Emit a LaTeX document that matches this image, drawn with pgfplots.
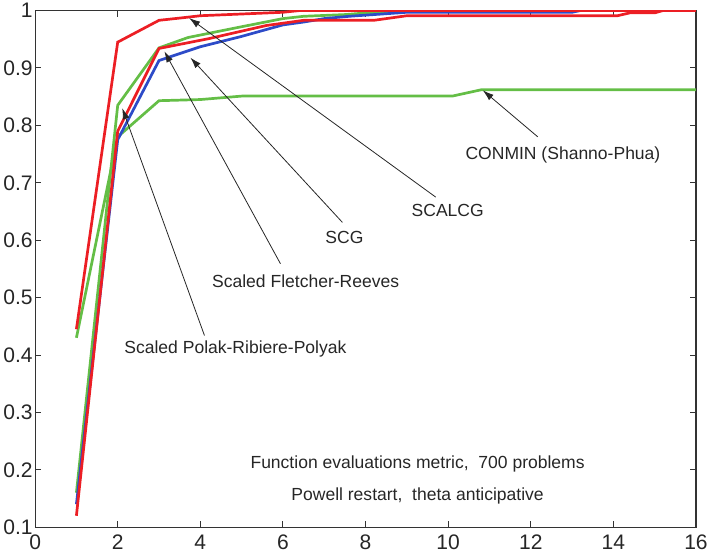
\documentclass[border=0pt]{standalone}
\usepackage{pgfplots}
\pgfplotsset{compat=1.18}
\usepackage{fontspec}
\setmainfont{Liberation Sans}
\usetikzlibrary{arrows.meta}
\definecolor{mred}{RGB}{236,30,36}
\definecolor{mgreen}{RGB}{100,190,70}
\definecolor{mblue}{RGB}{45,75,200}
\begin{document}
\begin{tikzpicture}
\begin{axis}[
  scale only axis, width=660pt, height=516pt,
  xmin=0, xmax=16, ymin=0.1, ymax=1,
  xtick={0,2,...,16}, ytick={0.1,0.2,...,1.0},
  yticklabels={0.1,0.2,0.3,0.4,0.5,0.6,0.7,0.8,0.9,1},
  tick align=inside, tick pos=both,
  major tick length=6pt,
  /pgf/number format/assume math mode=true,
  tick label style={font=\fontsize{21}{22}\selectfont, color=black!85},
  yticklabel style={xshift=1pt},
  xticklabel style={yshift=-4pt},
  axis line style={black!80, line width=1.1pt},
  every tick/.style={black!80, line width=1pt},
  clip=true,
]
% CONMIN (Shanno-Phua)
\addplot[mgreen, line width=2.7pt] coordinates {(1,0.43)(2,0.78)(3,0.843)(4,0.845)(5,0.851)(10.1,0.851)(10.8,0.862)(16,0.862)};
% Scaled Polak-Ribiere-Polyak
\addplot[mgreen, line width=2.7pt] coordinates {(1,0.16)(2,0.835)(3,0.935)(3.7,0.953)(4.8,0.969)(6,0.986)(6.5,0.99)(7.5,0.993)(8.4,0.998)(9,1)(16,1)};
% SCG
\addplot[mblue, line width=2.7pt] coordinates {(1,0.14)(2,0.775)(3,0.913)(4,0.937)(5,0.955)(6,0.975)(6.5,0.98)(7,0.986)(7.6,0.99)(9,0.997)(13,0.997)(13.2,1)(16,1)};
% Scaled Fletcher-Reeves
\addplot[mred, line width=2.7pt] coordinates {(1,0.12)(2,0.79)(3,0.934)(4.2,0.951)(5.6,0.974)(6.5,0.983)(8.2,0.983)(9,0.991)(14.1,0.991)(14.4,0.996)(15,0.996)(15.2,1)(16,1)};
% SCALCG
\addplot[mred, line width=2.7pt] coordinates {(1,0.445)(2,0.945)(3,0.983)(3.64,0.988)(4,0.991)(5,0.994)(6,0.997)(6.4,1)(16,1)};

\begin{scope}[every node/.style={font=\fontsize{17.5}{19}\selectfont, text=black!85}]
\draw[black!85, line width=0.8pt, -{Latex[length=11pt,width=7pt]}] (axis cs:12.17,0.780) -- (axis cs:10.84,0.861);
\node at (axis cs:12.78,0.749) {CONMIN (Shanno-Phua)};
\draw[black!85, line width=0.8pt, -{Latex[length=11pt,width=7pt]}] (axis cs:9.70,0.675) -- (axis cs:3.73,0.987);
\node at (axis cs:9.99,0.652) {SCALCG};
\draw[black!85, line width=0.8pt, -{Latex[length=11pt,width=7pt]}] (axis cs:7.44,0.631) -- (axis cs:3.76,0.918);
\node at (axis cs:7.49,0.605) {SCG};
\draw[black!85, line width=0.8pt, -{Latex[length=11pt,width=7pt]}] (axis cs:5.94,0.559) -- (axis cs:3.13,0.929);
\node at (axis cs:6.55,0.529) {Scaled Fletcher-Reeves};
\draw[black!85, line width=0.8pt, -{Latex[length=11pt,width=7pt]}] (axis cs:4.10,0.434) -- (axis cs:2.11,0.830);
\node at (axis cs:4.85,0.410) {Scaled Polak-Ribiere-Polyak};
\node at (axis cs:9.26,0.211) {Function evaluations metric,\ \ 700 problems};
\node at (axis cs:9.26,0.155) {Powell restart,\ \ theta anticipative};
\end{scope}
\end{axis}
\end{tikzpicture}
\end{document}
